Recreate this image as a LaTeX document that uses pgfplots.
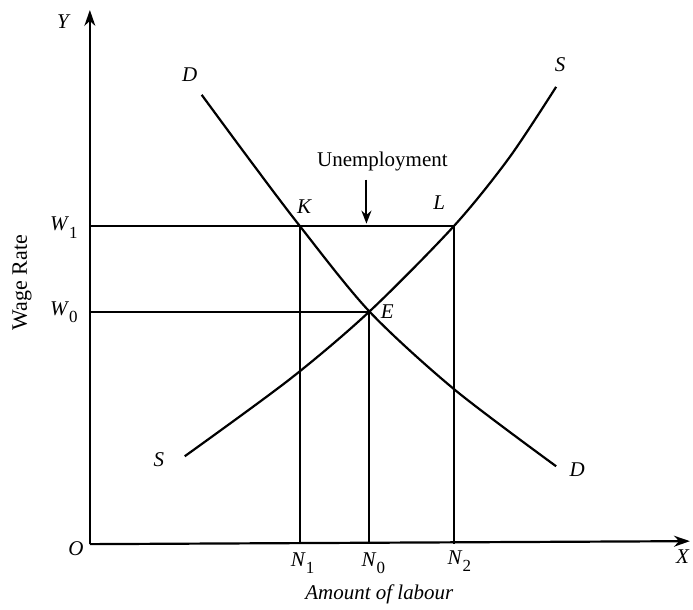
\documentclass[border=0pt]{standalone}
\usepackage{fontspec}
\setmainfont{Liberation Serif}
\usepackage{pgfplots}
\pgfplotsset{compat=1.18}
\usetikzlibrary{arrows.meta}
\newcommand{\sub}[2]{\textit{#1}\raisebox{-0.35em}{\fontsize{17}{17}\selectfont #2}}
\begin{document}
\begin{tikzpicture}[font=\fontsize{21}{24}\selectfont]
\begin{axis}[
  width=693pt, height=610pt, scale only axis,
  xmin=0, xmax=693, ymin=0, ymax=610,
  hide axis, clip=false,
]
\draw[draw=none] (axis cs:0,0) rectangle (axis cs:693,610);
% axes
\addplot[line width=2.2pt, -{Stealth[length=16pt,width=11pt]}] coordinates {(90,65) (90,600)};
\addplot[line width=2.2pt, -{Stealth[length=16pt,width=11pt]}] coordinates {(90,65) (691,68)};
% demand curve D
\addplot[line width=2.2pt, smooth, tension=0.5] coordinates {
 (202,515) (250,450) (300,384) (370,298) (455,220) (557,143)};
% supply curve S
\addplot[line width=2.2pt, smooth, tension=0.5] coordinates {
 (185,153) (290,230) (370,298) (455,384) (510,452) (557,523)};
% wage lines
\addplot[line width=2pt] coordinates {(90,384) (455,384)};
\addplot[line width=2pt] coordinates {(90,298) (370,298)};
% verticals
\addplot[line width=2pt] coordinates {(300,384) (300,65)};
\addplot[line width=2pt] coordinates {(370,298) (370,65)};
\addplot[line width=2pt] coordinates {(455,384) (455,65)};
% unemployment arrow
\addplot[line width=2pt, -{Stealth[length=13pt,width=10pt]}] coordinates {(367,430) (367,386)};
% labels
\node at (axis cs:64,588) {\textit{Y}};
\node at (axis cs:76,60) {\textit{O}};
\node at (axis cs:684,52) {\textit{X}};
\node at (axis cs:303,46) {\sub{N}{1}};
\node at (axis cs:374,46) {\sub{N}{0}};
\node at (axis cs:460,48) {\sub{N}{2}};
\node at (axis cs:380,15) {\textit{Amount of labour}};
\node at (axis cs:64,382) {\sub{W}{1}};
\node at (axis cs:64,297) {\sub{W}{0}};
\node[rotate=90] at (axis cs:22,327) {\fontsize{22}{24}\selectfont Wage Rate};
\node at (axis cs:190,535) {\textit{D}};
\node at (axis cs:561,545) {\textit{S}};
\node at (axis cs:159,150) {\textit{S}};
\node at (axis cs:578,140) {\textit{D}};
\node at (axis cs:305,403) {\textit{K}};
\node at (axis cs:440,407) {\textit{L}};
\node at (axis cs:388,298) {\textit{E}};
\node at (axis cs:383,448) {Unemployment};
\end{axis}
\end{tikzpicture}
\end{document}
